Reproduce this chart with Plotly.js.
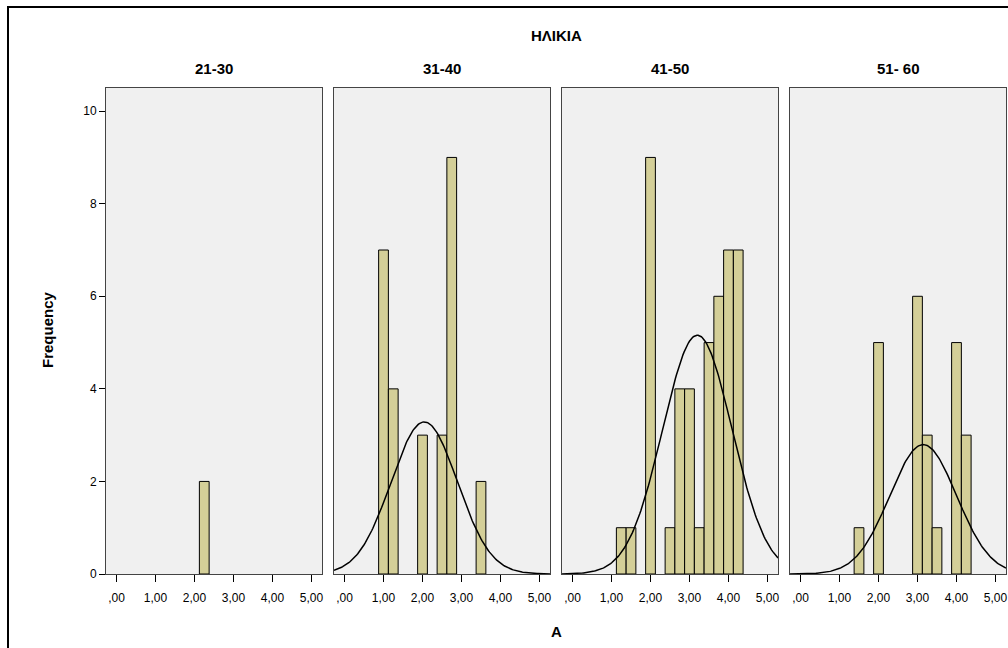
<!DOCTYPE html>
<html>
<head>
<meta charset="utf-8">
<script src="https://cdn.plot.ly/plotly-3.0.1.min.js"></script>
<style>html,body{margin:0;padding:0;background:#fff}#chart{width:1008px;height:648px}</style>
</head>
<body>
<div id="chart"></div>
<script>
// ---- data ----
const panelTitles = ["21-30", "31-40", "41-50", "51- 60"];
const xTickVals = [0, 1, 2, 3, 4, 5];
const xTickText = [",00", "1,00", "2,00", "3,00", "4,00", "5,00"];
const yTickVals = [0, 2, 4, 6, 8, 10];
const binWidth = 0.25;

const centers2130 = [2.25];
const counts2130  = [2];

const centers3140 = [1.0, 1.25, 2.0, 2.5, 2.75, 3.5];
const counts3140  = [7, 4, 3, 3, 9, 2];

const centers4150 = [1.25, 1.5, 2.0, 2.5, 2.75, 3.0, 3.25, 3.5, 3.75, 4.0, 4.25];
const counts4150  = [1, 1, 9, 1, 4, 4, 1, 5, 6, 7, 7];

const centers5160 = [1.5, 2.0, 3.0, 3.25, 3.5, 4.0, 4.25];
const counts5160  = [1, 5, 6, 3, 1, 5, 3];

const panels = [
  {c: centers2130, n: counts2130},
  {c: centers3140, n: counts3140},
  {c: centers4150, n: counts4150},
  {c: centers5160, n: counts5160}
];

// ---- layout geometry ----
const W = 1008, H = 648;
const panelLeft = [106, 334, 562, 790];
const panelW = 216;
const yTop = 88, yBot = 574;
const xRange = [-0.27, 5.27];
const yRange = [0, 10.5];

const barColor = "#D4CF98";
const font = "Liberation Sans, Arial, sans-serif";

// normal curve fitted to each panel's values (as SPSS does)
function normalCurve(c, n) {
  let N = 0, s = 0;
  for (let i = 0; i < c.length; i++) { N += n[i]; s += c[i] * n[i]; }
  const m = s / N;
  let ss = 0;
  for (let i = 0; i < c.length; i++) ss += n[i] * (c[i] - m) * (c[i] - m);
  const sd = Math.sqrt(ss / (N - 1));
  if (!(sd > 0)) return null;
  const xs = [], ys = [];
  const steps = 200;
  for (let k = 0; k <= steps; k++) {
    const x = xRange[0] + (xRange[1] - xRange[0]) * k / steps;
    xs.push(x);
    ys.push(N * binWidth / (sd * Math.sqrt(2 * Math.PI)) * Math.exp(-0.5 * ((x - m) / sd) ** 2));
  }
  return {xs, ys};
}

const traces = [];
const layout = {
  width: W, height: H,
  margin: {l: 0, r: 0, t: 0, b: 0},
  paper_bgcolor: "#ffffff",
  plot_bgcolor: "#F0F0F0",
  showlegend: false,
  font: {family: font, color: "#000"},
  annotations: [],
  shapes: [
    {type: "rect", xref: "paper", yref: "paper",
     x0: 8 / W, x1: 1.02, y0: -0.02, y1: 1 - 7 / H,
     line: {color: "#000", width: 2}, fillcolor: "rgba(0,0,0,0)", layer: "above"}
  ]
};

panels.forEach((p, i) => {
  const sfx = i === 0 ? "" : String(i + 1);
  const xa = "x" + sfx, ya = "y" + sfx;
  traces.push({
    type: "bar", x: p.c, y: p.n, xaxis: xa, yaxis: ya, width: binWidth,
    marker: {color: barColor, line: {color: "#000", width: 1}},
    hoverinfo: "skip"
  });
  const nc = normalCurve(p.c, p.n);
  if (nc) {
    traces.push({
      type: "scatter", mode: "lines", x: nc.xs, y: nc.ys, xaxis: xa, yaxis: ya,
      line: {color: "#000", width: 1.5}, hoverinfo: "skip", cliponaxis: true
    });
  }
  const d = [panelLeft[i] / W, (panelLeft[i] + panelW) / W];
  layout["xaxis" + sfx] = {
    domain: d, range: xRange, anchor: ya,
    tickvals: xTickVals, ticktext: xTickText,
    ticks: "outside", ticklen: 7, tickwidth: 1.5, tickcolor: "#000",
    ticklabelstandoff: 6,
    showgrid: false, zeroline: false,
    showline: true, mirror: true, linecolor: "#444", linewidth: 1,
    tickfont: {family: font, size: 12, color: "#000"}, fixedrange: true
  };
  layout["yaxis" + sfx] = {
    domain: [1 - yBot / H, 1 - yTop / H], range: yRange, anchor: xa,
    tickvals: yTickVals,
    ticks: i === 0 ? "outside" : "", ticklen: 6, tickcolor: "#000",
    showticklabels: i === 0,
    showgrid: false, zeroline: false,
    showline: true, mirror: true, linecolor: "#444", linewidth: 1,
    tickfont: {family: font, size: 12, color: "#000"}, fixedrange: true
  };
  layout.annotations.push({
    text: panelTitles[i], xref: "paper", yref: "paper",
    x: (panelLeft[i] + panelW / 2) / W, y: 1 - 68 / H,
    showarrow: false, xanchor: "center", yanchor: "middle",
    font: {family: font, size: 15, weight: "bold", color: "#000"}
  });
});

layout.annotations.push(
  {text: "ΗΛΙΚΙΑ", xref: "paper", yref: "paper", x: 556 / W, y: 1 - 35 / H,
   showarrow: false, xanchor: "center", yanchor: "middle",
   font: {family: font, size: 15, weight: "bold", color: "#000"}},
  {text: "Frequency", xref: "paper", yref: "paper", x: 47 / W, y: 1 - 330 / H,
   showarrow: false, textangle: -90, xanchor: "center", yanchor: "middle",
   font: {family: font, size: 15, weight: "bold", color: "#000"}},
  {text: "A", xref: "paper", yref: "paper", x: 556 / W, y: 1 - 631 / H,
   showarrow: false, xanchor: "center", yanchor: "middle",
   font: {family: font, size: 15, weight: "bold", color: "#000"}}
);

Plotly.newPlot("chart", traces, layout, {staticPlot: true, displayModeBar: false});
</script>
</body>
</html>
